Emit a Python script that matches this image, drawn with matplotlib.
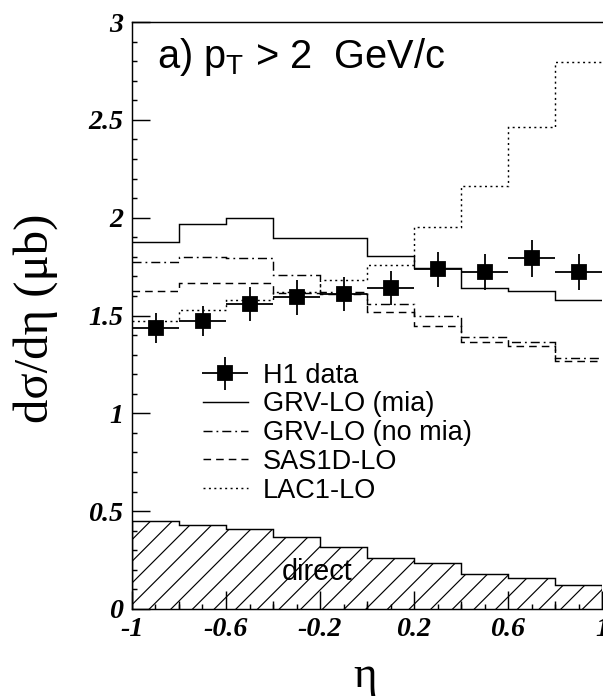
import matplotlib
matplotlib.use("Agg")
import matplotlib.pyplot as plt
import numpy as np
from matplotlib.container import ErrorbarContainer
from matplotlib.legend_handler import HandlerErrorbar
from matplotlib.ticker import FuncFormatter, MultipleLocator

# ── data ──────────────────────────────────────────────────────────────────
eta_edges = [-1.0, -0.8, -0.6, -0.4, -0.2, 0.0, 0.2, 0.4, 0.6, 0.8, 1.0]
eta_centres = [-0.9, -0.7, -0.5, -0.3, -0.1, 0.1, 0.3, 0.5, 0.7, 0.9]
eta_halfwidth = 0.1

h1_xsec = [1.434, 1.473, 1.558, 1.593, 1.610, 1.642, 1.736, 1.724, 1.792, 1.724]
h1_err = [0.077, 0.078, 0.088, 0.089, 0.085, 0.086, 0.089, 0.092, 0.094, 0.092]

grv_mia = [1.874, 1.966, 2.000, 1.894, 1.894, 1.805, 1.741, 1.639, 1.627, 1.579]
grv_nomia = [1.775, 1.797, 1.795, 1.708, 1.620, 1.559, 1.499, 1.389, 1.367, 1.285]
sas1d = [1.627, 1.667, 1.667, 1.617, 1.610, 1.517, 1.445, 1.365, 1.342, 1.270]
lac1 = [1.470, 1.528, 1.579, 1.621, 1.681, 1.758, 1.952, 2.161, 2.465, 2.794]
direct = [0.450, 0.431, 0.407, 0.366, 0.318, 0.262, 0.237, 0.179, 0.157, 0.123]

# ── style ─────────────────────────────────────────────────────────────────
DPI = 130
plt.rcParams["axes.unicode_minus"] = False
plt.rcParams["lines.scale_dashes"] = False
plt.rcParams["hatch.linewidth"] = 0.65
plt.rcParams["mathtext.fontset"] = "custom"
plt.rcParams["mathtext.rm"] = "Liberation Sans"
plt.rcParams["font.family"] = "Liberation Sans"

LW = 0.8
sans = "Liberation Sans"
serif = "Liberation Serif"

fig = plt.figure(figsize=(603 / DPI, 699 / DPI), dpi=DPI)
fig.patch.set_facecolor("white")
ax = fig.add_axes([132 / 603, 90 / 699, 470 / 603, 587 / 699])

# theory histograms
ax.stairs(grv_mia, eta_edges, baseline=None, color="black", lw=LW,
          linestyle="-", label="GRV-LO (mia)")
ax.stairs(grv_nomia, eta_edges, baseline=None, color="black", lw=LW,
          linestyle=(0, (5.0, 2.2, 1.0, 2.2)), label="GRV-LO (no mia)")
ax.stairs(sas1d, eta_edges, baseline=None, color="black", lw=LW,
          linestyle=(0, (4.2, 2.8)), label="SAS1D-LO")
ax.stairs(lac1, eta_edges, baseline=None, color="black", lw=LW,
          linestyle=(0, (1.1, 1.9)), label="LAC1-LO")

# direct contribution (hatched); '//' gives ~22 px line spacing at this dpi
ax.stairs(direct, eta_edges, baseline=0, fill=True, facecolor="none",
          edgecolor="black", hatch="//", lw=LW)
ax.text(0.394, 0.049, "direct", transform=ax.transAxes, ha="center",
        va="baseline", fontsize=16, family=sans)

# H1 data
data = ax.errorbar(eta_centres, h1_xsec, yerr=h1_err, xerr=eta_halfwidth,
                   fmt="s", color="black", ms=8, elinewidth=1.0,
                   capsize=0, label="H1 data")

ax.set_xlim(-1, 1)
ax.set_ylim(0, 3)

# ── ticks ─────────────────────────────────────────────────────────────────
fmt = FuncFormatter(lambda v, p: f"{np.round(v, 2):g}")
ax.set_xticks(np.arange(-1.0, 1.01, 0.4))
ax.xaxis.set_minor_locator(MultipleLocator(0.1))
ax.yaxis.set_major_locator(MultipleLocator(0.5))
ax.yaxis.set_minor_locator(MultipleLocator(0.1))
ax.xaxis.set_major_formatter(fmt)
ax.yaxis.set_major_formatter(fmt)
ax.tick_params(which="both", direction="in", width=LW, top=False, right=False)
ax.tick_params(which="major", length=10)
ax.tick_params(which="minor", length=2.8)
ax.tick_params(axis="x", pad=4.5)
ax.tick_params(axis="y", pad=5.0)
for lab in ax.get_xticklabels() + ax.get_yticklabels():
    lab.set_fontfamily(serif)
    lab.set_fontstyle("italic")
    lab.set_fontweight("bold")
    lab.set_fontsize(15.5)

# medium ticks every 0.2 on the eta axis
sec = ax.secondary_xaxis("bottom")
sec.set_xticks(np.arange(-0.8, 0.81, 0.4))
sec.tick_params(direction="in", length=4.4, width=LW, labelbottom=False)
sec.spines["bottom"].set_visible(False)

for s in ax.spines.values():
    s.set_linewidth(LW)
ax.spines["right"].set_visible(False)

# ── labels ────────────────────────────────────────────────────────────────
ax.set_ylabel("dσ/dη (μb)", family=serif, fontsize=27)
ax.yaxis.set_label_coords(-0.157, 0.496)
ax.set_xlabel("η", family=serif, fontsize=25)
ax.xaxis.set_label_coords(0.496, -0.080)

ax.text(0.053, 0.9216, r"a) p$_\mathrm{T}$ > 2  GeV/c", transform=ax.transAxes,
        ha="left", va="baseline", fontsize=22, family=sans)

# legend
handles, labels = ax.get_legend_handles_labels()
order = ["H1 data", "GRV-LO (mia)", "GRV-LO (no mia)", "SAS1D-LO", "LAC1-LO"]
hmap = dict(zip(labels, handles))
ax.legend([hmap[k] for k in order], order, loc="upper left",
          bbox_to_anchor=(0.151, 0.4195), frameon=False,
          prop={"family": sans, "size": 15}, borderpad=0, borderaxespad=0,
          handlelength=1.66, handletextpad=0.55, labelspacing=0.1,
          handler_map={ErrorbarContainer: HandlerErrorbar(xerr_size=0.85, yerr_size=0.6)})

fig.savefig("out.png", dpi=DPI)
